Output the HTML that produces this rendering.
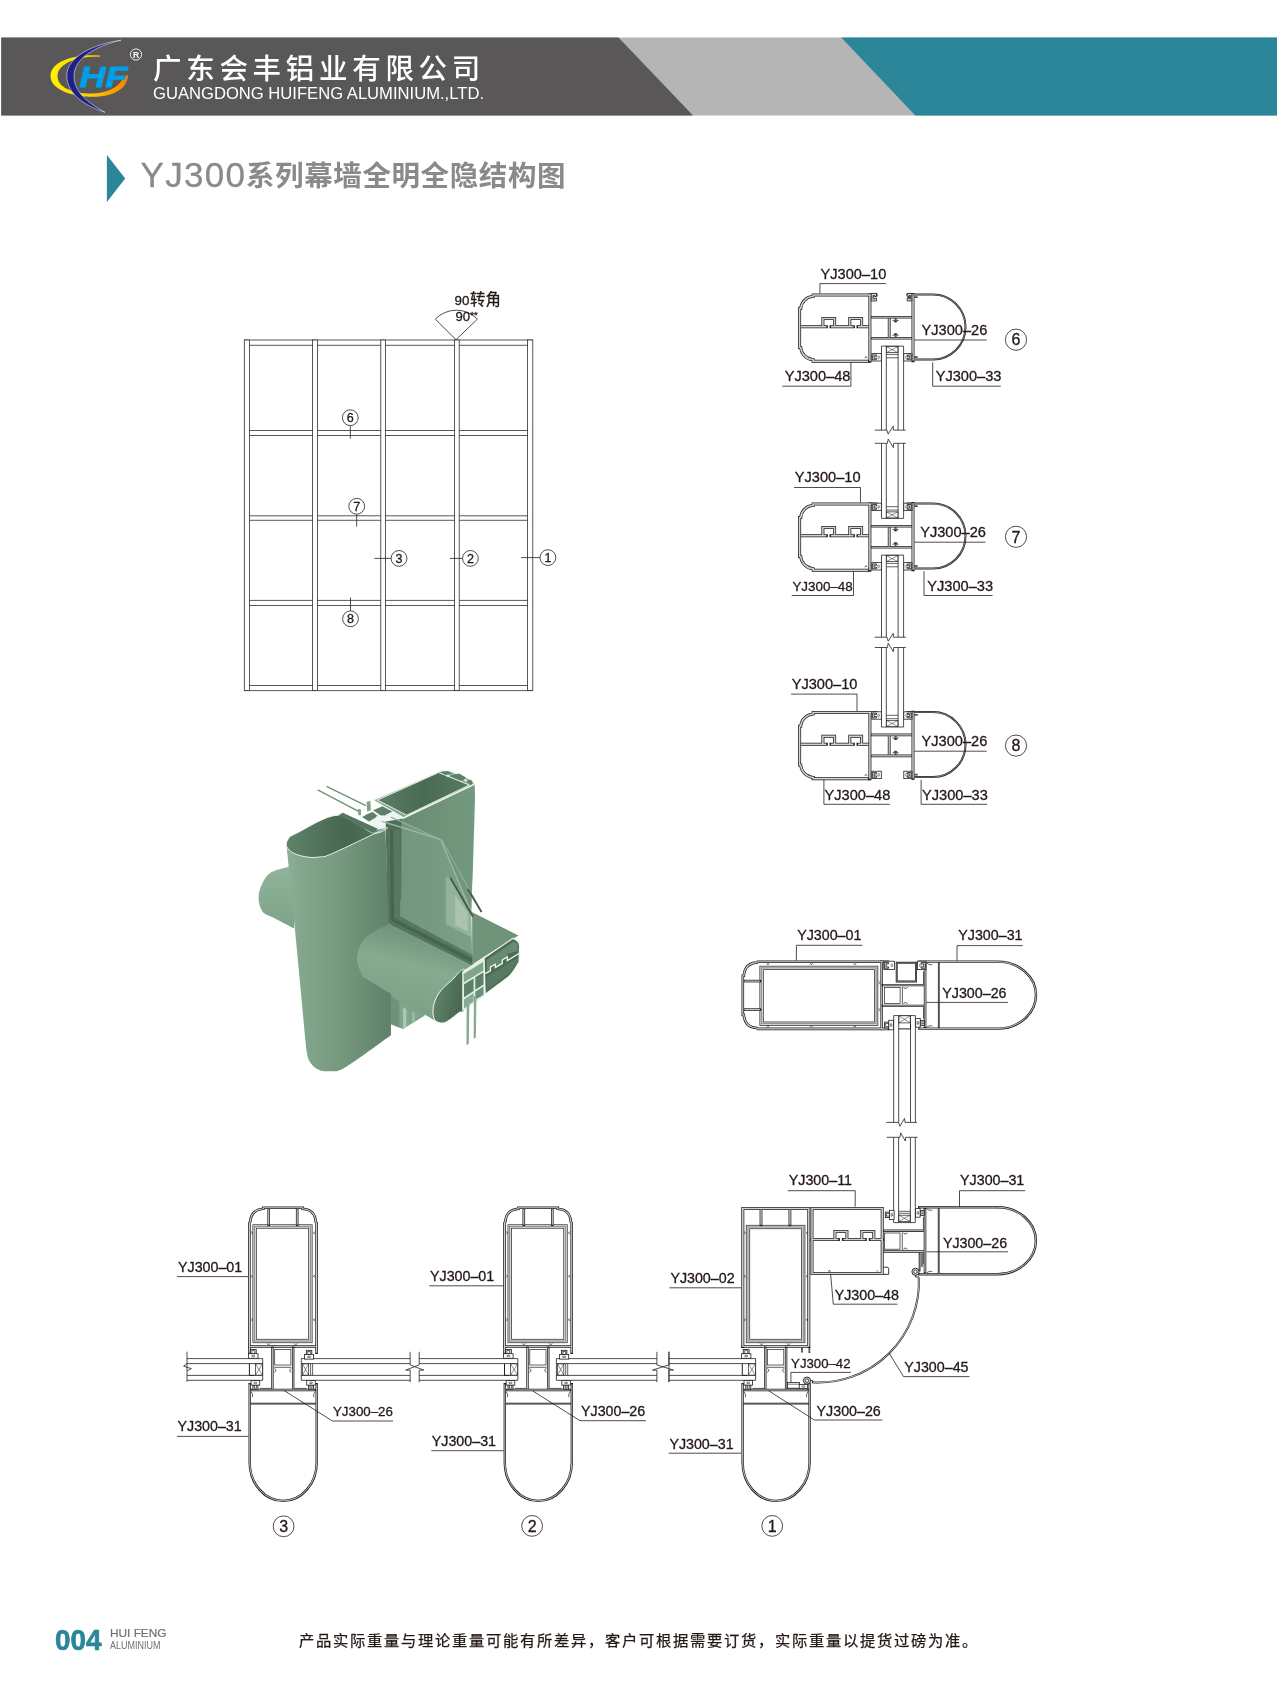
<!DOCTYPE html>
<html lang="zh"><head><meta charset="utf-8"><title>YJ300系列幕墙全明全隐结构图</title>
<style>html,body{margin:0;padding:0;background:#fff}svg{display:block;will-change:transform}text{font-family:"Liberation Sans", "Noto Sans CJK SC", sans-serif;stroke-linejoin:round}</style></head><body>
<svg width="1277" height="1683" viewBox="0 0 1277 1683">
<rect width="1277" height="1683" fill="#fff"/>
<g id="header">
<polygon points="1.2,37.5 1277,37.5 1277,115.6 1.2,115.6" fill="#b5b5b6"/>
<polygon points="1.2,37.5 618.5,37.5 693,115.6 1.2,115.6" fill="#595757"/>
<polygon points="841.3,37.5 1277,37.5 1277,115.6 915.3,115.6" fill="#2b8699"/>
<defs><linearGradient id="gy" x1="0" y1="0" x2="1" y2="0"><stop offset="0" stop-color="#fff100"/><stop offset="0.5" stop-color="#fdd000"/><stop offset="1" stop-color="#f08300"/></linearGradient></defs>
<path d="M100,55.5 C78,53.5 50.5,60 50.5,76 C50.5,92 80,98.5 100,96.5 C118,94.8 128,86 128,75 L123.5,76.5 C121,86 108,93 93,93.5 C74,94 57.5,88 57.5,76 C57.5,64 76,56 100,56.8 Z" fill="url(#gy)"/>
<path d="M121,40.2 C95,44 66.5,56 66.8,76 C67,94 85,106 105,112.3 C88,103 74,92 74,76 C74,58 96,46 121,40.2 Z" fill="#1d2088" stroke="#fff" stroke-width="0.5"/>
<text x="0" y="0" transform="translate(79.3,86.6) scale(1.22,1)" font-size="29.6" font-weight="bold" font-style="italic" fill="#00a0e9" stroke="#00a0e9" stroke-width="0.9" font-family='"Liberation Sans", sans-serif'>HF</text>
<circle cx="136" cy="54.5" r="5.6" fill="none" stroke="#fff" stroke-width="0.9"/>
<text x="136" y="57.6" font-size="8.5" fill="#fff" text-anchor="middle" font-weight="bold">R</text>
<text x="153" y="78.5" font-size="28.5" font-weight="500" fill="#fff" letter-spacing="4.7">广东会丰铝业有限公司</text>
<text x="153" y="99.3" font-size="16" fill="#fff" textLength="331" lengthAdjust="spacingAndGlyphs">GUANGDONG HUIFENG ALUMINIUM.,LTD.</text>
</g>
<polygon points="106.9,155 125.2,178.5 106.9,202" fill="#2b8699"/>
<text x="140.5" y="187.4" font-size="35" fill="#8a8a8a" stroke="#8a8a8a" stroke-width="0.3" textLength="104.5" lengthAdjust="spacing">YJ300</text>
<text x="246" y="186" font-size="28.5" font-weight="bold" fill="#8a8a8a" letter-spacing="0.6">系列幕墙全明全隐结构图</text>
<text x="55" y="1649.8" font-size="29.5" font-weight="bold" fill="#2b8699" stroke="#2b8699" stroke-width="0.7" textLength="46.5" lengthAdjust="spacingAndGlyphs">004</text>
<text x="110" y="1637" font-size="11.4" fill="#727171" stroke="#727171" stroke-width="0.2" textLength="56.5" lengthAdjust="spacingAndGlyphs">HUI FENG</text>
<text x="110" y="1649.4" font-size="10.2" fill="#727171" textLength="50.5" lengthAdjust="spacingAndGlyphs">ALUMINIUM</text>
<text x="299" y="1646" font-size="15.3" fill="#231815" stroke="#231815" stroke-width="0.25" letter-spacing="1.7">产品实际重量与理论重量可能有所差异，客户可根据需要订货，实际重量以提货过磅为准。</text>
<g id="grid">
<path d="M244.3,340H532.8M244.3,345.3H532.8" fill="none" stroke="#231f1e" stroke-width="0.75" />
<path d="M244.3,430.5H532.8M244.3,435.5H532.8" fill="none" stroke="#231f1e" stroke-width="0.75" />
<path d="M244.3,515.8H532.8M244.3,520.3H532.8" fill="none" stroke="#231f1e" stroke-width="0.75" />
<path d="M244.3,600.4H532.8M244.3,605.5H532.8" fill="none" stroke="#231f1e" stroke-width="0.75" />
<path d="M244.3,685.5H532.8M244.3,690.6H532.8" fill="none" stroke="#231f1e" stroke-width="0.75" />
<rect x="244.3" y="340" width="5.3" height="350.6" fill="#fff" stroke="#231f1e" stroke-width="0.75"/>
<rect x="312.6" y="340" width="5" height="350.6" fill="#fff" stroke="#231f1e" stroke-width="0.75"/>
<rect x="380.8" y="340" width="4.7" height="350.6" fill="#fff" stroke="#231f1e" stroke-width="0.75"/>
<rect x="454.6" y="340" width="4.6" height="350.6" fill="#fff" stroke="#231f1e" stroke-width="0.75"/>
<rect x="527.5" y="340" width="5.3" height="350.6" fill="#fff" stroke="#231f1e" stroke-width="0.75"/>
<path d="M435.3,319.1L456,339.7L477.4,319.1M435.3,319.1A29.3,29.3 0 0 1 477.4,319.1" fill="none" stroke="#231f1e" stroke-width="0.8" />
<text x="454.6" y="305.2" font-size="13.4" text-anchor="start" fill="#231815" stroke="#231815" stroke-width="0.3" >90<tspan font-size="15.4" dx="0.6">转角</tspan></text>
<text x="455.4" y="320.7" font-size="13.2" text-anchor="start" fill="#231815" stroke="#231815" stroke-width="0.3" >90</text>
<text x="470.2" y="317.5" font-size="9.5" text-anchor="start" fill="#231815" stroke="#231815" stroke-width="0.3" >**</text>
<path d="M350.3,425.6V438.6" fill="none" stroke="#231f1e" stroke-width="0.8" />
<circle cx="350.3" cy="417.7" r="7.9" fill="#fff" stroke="#231f1e" stroke-width="0.8"/>
<text x="350.3" y="422.2" font-size="12.5" text-anchor="middle" fill="#231815" stroke="#231815" stroke-width="0.3" >6</text>
<path d="M356.7,514.2V526.6" fill="none" stroke="#231f1e" stroke-width="0.8" />
<circle cx="356.7" cy="506.3" r="7.9" fill="#fff" stroke="#231f1e" stroke-width="0.8"/>
<text x="356.7" y="510.8" font-size="12.5" text-anchor="middle" fill="#231815" stroke="#231815" stroke-width="0.3" >7</text>
<path d="M350.5,597.6V610.8" fill="none" stroke="#231f1e" stroke-width="0.8" />
<circle cx="350.5" cy="618.8" r="7.9" fill="#fff" stroke="#231f1e" stroke-width="0.8"/>
<text x="350.5" y="623.3" font-size="12.5" text-anchor="middle" fill="#231815" stroke="#231815" stroke-width="0.3" >8</text>
<path d="M374.5,558.4H391.1" fill="none" stroke="#231f1e" stroke-width="0.8" />
<circle cx="399" cy="558.4" r="7.9" fill="#fff" stroke="#231f1e" stroke-width="0.8"/>
<text x="399" y="562.9" font-size="12.5" text-anchor="middle" fill="#231815" stroke="#231815" stroke-width="0.3" >3</text>
<path d="M449.8,558.4H462.5" fill="none" stroke="#231f1e" stroke-width="0.8" />
<circle cx="470.4" cy="558.4" r="7.9" fill="#fff" stroke="#231f1e" stroke-width="0.8"/>
<text x="470.4" y="562.9" font-size="12.5" text-anchor="middle" fill="#231815" stroke="#231815" stroke-width="0.3" >2</text>
<path d="M521.1,557.6H540" fill="none" stroke="#231f1e" stroke-width="0.8" />
<circle cx="547.9" cy="557.6" r="7.9" fill="#fff" stroke="#231f1e" stroke-width="0.8"/>
<text x="547.9" y="562.1" font-size="12.5" text-anchor="middle" fill="#231815" stroke="#231815" stroke-width="0.3" >1</text>
</g>
<g id="iso">
<defs>
<linearGradient id="gcol" x1="0" y1="0" x2="1" y2="0"><stop offset="0" stop-color="#8db197"/><stop offset="0.12" stop-color="#84a88e"/><stop offset="0.55" stop-color="#74977d"/><stop offset="1" stop-color="#5f8169"/></linearGradient>
<linearGradient id="gin" x1="0" y1="0" x2="1" y2="0"><stop offset="0" stop-color="#5f8369"/><stop offset="0.6" stop-color="#47664f"/><stop offset="1" stop-color="#54755d"/></linearGradient>
<linearGradient id="gstub" x1="0" y1="0" x2="0" y2="1"><stop offset="0" stop-color="#8fb49a"/><stop offset="1" stop-color="#7ea388"/></linearGradient>
<linearGradient id="gtube" x1="0.3" y1="0" x2="0" y2="1"><stop offset="0" stop-color="#6f937a"/><stop offset="0.35" stop-color="#86ab90"/><stop offset="0.75" stop-color="#7da287"/><stop offset="1" stop-color="#6c8f76"/></linearGradient>
<linearGradient id="gcap" x1="0" y1="0" x2="1" y2="0.3"><stop offset="0" stop-color="#648a6f"/><stop offset="1" stop-color="#466650"/></linearGradient>
<linearGradient id="gbox" x1="0" y1="0" x2="1" y2="0"><stop offset="0" stop-color="#5b7f66"/><stop offset="0.5" stop-color="#496a53"/><stop offset="1" stop-color="#587a62"/></linearGradient>
<linearGradient id="gface" x1="0" y1="0" x2="1" y2="0"><stop offset="0" stop-color="#668a70"/><stop offset="1" stop-color="#73997e"/></linearGradient>
</defs>
<path d="M326.47,786.32L365.94,805.74M317.69,789.82L360.93,812.63" stroke="#6f9379" stroke-width="1.4" fill="none"/>
<path d="M293.16,865.79C289.52,866.88 276.53,869.26 271.35,872.31C266.17,875.36 264.21,879.82 262.08,884.09C259.95,888.35 258.49,893.27 258.57,897.87C258.65,902.46 259.82,908.23 262.58,911.65C265.34,915.08 269.85,915.62 275.11,918.42C280.38,921.22 290.99,926.78 294.16,928.45L294.16,865.79Z" fill="url(#gstub)"/>
<polygon points="390.26,990.22 424.8,1012.77 424.8,1015.59 402.95,1028.98 390.26,1024.05" fill="#80a58b" />
<polygon points="402.95,1007.13 406.47,1009.25 406.47,1026.87 402.95,1028.98" fill="#a9c9b3" />
<polygon points="412.11,1011.36 414.93,1012.77 414.93,1021.51 412.11,1023.34" fill="#98bba3" />
<polygon points="390.96,995.86 399.42,1001.49 399.42,1027.57 390.96,1024.05" fill="#6f937a" />
<polygon points="403.23,818.27 474.66,783.81 475.04,797.59 472.78,872.78 472.11,887.64 471.23,916.47 472.11,956.57 387.52,917.72 387,822" fill="url(#gface)"/>
<path d="M372.28,800.1L439.2,771.03C442.71,769.27 447.72,769.27 451.73,771.03L470.28,778.8C473.78,780.3 475.54,782.56 475.04,784.81L403.23,818.9Z" fill="#eef4ef"/>
<path d="M374.54,800.23L439.7,772.16C442.96,770.65 447.47,770.65 451.23,772.16L469.52,779.8C472.28,781.05 473.53,782.56 473.28,784.06L403.48,817.02Z" fill="#84a98e"/>
<polygon points="377.54,800.1 438.7,772.53 469.27,785.06 406.62,815.14" fill="url(#gbox)" stroke="#f1f6f2" stroke-width="0.9"/>
<polygon points="440.2,772.28 447.72,771.28 451.23,772.78 446.47,775.29" fill="#5d8168" />
<polygon points="449.6,776.04 459,773.53 466.02,777.54 464.26,779.8 460.25,780.3" fill="#5d8168" />
<polygon points="466.77,781.05 471.28,779.8 472.78,783.81 470.28,784.81" fill="#5d8168" />
<path d="M446.47,775.66L449.6,776.04M464.26,779.8L466.77,781.05" stroke="#f1f6f2" stroke-width="1.6"/>
<polygon points="360.3,817.02 379.1,807.62 400.03,817.02 400.03,825.16 379.1,830.18" fill="#eef4ef" />
<polygon points="362.18,817.02 370.33,813.26 376.59,817.02 369.07,821.4" fill="#5d8168" />
<polygon points="375.34,810.75 382.86,806.99 392.26,811.38 384.11,815.76" fill="#5d8168" />
<polygon points="373.16,810.13 382.56,806.37 391.33,811.38 381.3,815.76" fill="#5d8168" />
<polygon points="365.01,815.14 372.53,812.01 377.54,815.76 371.28,819.52" fill="#5d8168" />
<polygon points="366.57,801.98 370.33,800.73 370.95,810.13 367.19,811.63" fill="#7fa48a" />
<polygon points="357.79,808.87 360.93,809.5 360.93,815.14 358.42,815.14" fill="#7fa48a" />
<polygon points="385.69,821.4 401.35,818.9 401.35,899.97 386.94,899.97" fill="#4f6f59" />
<polygon points="386.89,830 400.05,830 400.05,916.47 472.98,955.31 472.98,965.96 387.52,923.36" fill="#46654f" />
<polygon points="393.16,830 400.05,830 400.05,916.47 472.98,955.31 472.98,959.07 394.04,918.35" fill="#567860" />
<polygon points="386.89,830 390.03,830 390.65,920.23 472.98,963.08 472.98,965.96 387.52,923.36" fill="#54755d" />
<polygon points="470.85,911.45 518.47,935.51 484.01,956.82 472.11,964.71 472.11,917.72" fill="#6f947a" />
<polygon points="401.35,819.9 440.83,839.57 472.98,916.47 472.98,956.57 400.05,916.47" fill="#a9c9b3" fill-opacity="0.18"/>
<polygon points="445.79,876.99 450.18,877.62 471.23,916.47 471.23,937.14 445.79,923.98" fill="#d6e8dc" fill-opacity="0.28"/>
<polygon points="455.19,895.16 467.72,912.71 467.72,931.5 455.19,925.24" fill="#eef7f0" fill-opacity="0.25"/>
<path d="M381.93,821.4L440.83,839.57L472.98,916.47" stroke="#9dbba6" stroke-width="1.3" fill="none"/>
<path d="M390.7,817.02L442.08,840.2L481.5,912.08" stroke="#8fae98" stroke-width="1.2" fill="none"/>
<path d="M450.18,877.62L472.98,916.47" stroke="#3e5b47" stroke-width="1.8" fill="none"/>
<path d="M467.72,888.9L481.5,912.08" stroke="#3e5b47" stroke-width="1.8" fill="none"/>
<path d="M286.62,846.47L385.36,828.3L390.96,991.63L390.96,1035.33C383.45,1040.61 355.96,1061.05 345.86,1067.04C335.75,1073.03 335.05,1070.92 330.35,1071.27C325.65,1071.62 321.19,1070.92 317.66,1069.16C314.14,1067.39 311.13,1064.22 309.2,1060.7C307.28,1057.18 306.62,1050.13 306.1,1048.01L295.11,931.01Z" fill="url(#gcol)"/>
<path d="M286.62,846.47C285.68,844.06 286.62,841.14 288.25,838.95C289.87,836.75 288.04,837.28 296.39,833.31C304.75,829.34 325.63,815.2 338.37,815.14C351.11,815.08 365,830.74 372.83,832.93C380.66,835.13 392.05,824.89 385.36,828.3C378.68,831.7 343.59,848.6 332.73,853.36C321.87,858.12 324.38,856.24 320.2,856.87C316.02,857.49 312.06,857.7 307.67,857.12C303.28,856.53 297.39,855.13 293.88,853.36C290.38,851.58 287.56,848.87 286.62,846.47Z" fill="url(#gin)" stroke="#f4f8f5" stroke-width="0.9"/>
<path d="M340.25,813.26L377.84,828.67" stroke="#f4f8f5" stroke-width="1" fill="none"/>
<polygon points="338.37,815.14 342.76,812.63 377.84,828.67 372.83,832.93" fill="#557760" />
<path d="M389.55,924.25C387.56,925.14 382.04,926.83 377.57,929.6C373.11,932.37 366.22,935.95 362.77,940.88C359.32,945.81 356.85,953.21 356.85,959.2C356.85,965.2 361.78,973.89 362.77,976.83L434.71,1020.52L465.02,970.48L472.98,965.96Z" fill="url(#gtube)"/>
<path d="M465.02,970.48C462.86,965.9 455.97,976.59 451.63,980.35C447.28,984.11 441.99,988.57 438.94,993.04C435.89,997.5 434.01,1002.67 433.3,1007.13C432.6,1011.6 432.83,1017.24 434.71,1019.82C436.59,1022.4 440.58,1023.81 444.58,1022.64C448.57,1021.46 455.34,1015.24 458.67,1012.77C462.01,1010.3 463.54,1014.89 464.6,1007.84C465.65,1000.79 467.18,975.06 465.02,970.48Z" fill="url(#gcap)" stroke="#f4f8f5" stroke-width="1"/>
<polygon points="462.2,971.19 484.75,957.09 484.75,995.86 462.2,1011.36" fill="#e3eee6" />
<polygon points="463.75,974.01 483.48,961.74 483.48,970.48 463.75,982.46" fill="#7fa48a" />
<polygon points="464.03,984.3 473.62,978.38 473.62,990.92 464.03,997.27" fill="#5d8168" />
<polygon points="475.31,977.25 483.48,972.17 483.48,984.58 475.31,989.65" fill="#5d8168" />
<polygon points="475.31,991.63 483.48,986.55 483.48,994.73 475.31,999.8" fill="#6a8f74" />
<polygon points="464.03,999.38 473.62,993.04 473.62,1001.49 464.03,1008.54" fill="#86ab92" />
<path d="M484.05,958.08L512.95,938.34Q519.99,940.88 519.57,946.52L519.01,962.02Q512.24,974.01 508.01,977.25L485.18,994.16Z" fill="#4c6b55" stroke="#f1f6f2" stroke-width="1.2"/>
<polygon points="486.87,959.91 513.65,941.58 517.6,943.7 517.88,950.75 507.31,954.27 507.31,957.8 502.37,960.61 502.37,964.14 495.33,968.37 495.33,965.13 490.39,967.94 490.39,971.61 486.87,973.3" fill="#668b71" />
<polygon points="486.87,976.83 517.6,957.8 517.18,962.73 509.42,973.3 486.87,990.22" fill="#587a62" />
<path d="M485.18,973.58L490.39,970.76L490.39,966.96L495.33,964.28L495.33,967.66L502.37,963.43L502.37,959.77L507.31,956.95L507.31,960.61L519.29,953.28" fill="none" stroke="#f1f6f2" stroke-width="1.3"/>
<polygon points="466.71,997.27 469.39,998.67 468.82,1043.78 466.43,1044.91" fill="#86ab92" />
<polygon points="473.9,995.86 476.44,997.27 475.87,1037.44 473.62,1038.85" fill="#86ab92" />
</g>
<g transform="translate(248.1,1205.8)">
<path d="M-61.1,152.8H14.6M-61.1,157.8H14.6M-61.1,169.6H14.6M-61.1,174.5H14.6" fill="none" stroke="#231f1e" stroke-width="0.8" />
<path d="M14.6,152.8V174.5" fill="none" stroke="#231f1e" stroke-width="0.8" />
<rect x="7.3" y="158.1" width="7.1" height="11.2" fill="#fff" stroke="#231f1e" stroke-width="0.7"/>
<path d="M7.3,158.1L14.4,169.3M14.4,158.1L7.3,169.3" fill="none" stroke="#231f1e" stroke-width="0.5" />
<path d="M1.3,157.8V169.6H6" fill="none" stroke="#231f1e" stroke-width="1" />
<path d="M53.2,152.8H162.05M53.2,157.8H162.05M53.2,169.6H162.05M53.2,174.5H162.05" fill="none" stroke="#231f1e" stroke-width="0.8" />
<path d="M53.2,152.8V174.5" fill="none" stroke="#231f1e" stroke-width="0.8" />
<rect x="54.4" y="158.1" width="6.2" height="11.2" fill="#fff" stroke="#231f1e" stroke-width="0.7"/>
<path d="M54.4,158.1L60.6,169.3M60.6,158.1L54.4,169.3" fill="none" stroke="#231f1e" stroke-width="0.5" />
<path d="M62.5,157.8V169.6 M64.5,157.8V169.6" fill="none" stroke="#231f1e" stroke-width="0.7" />
<rect x="6.5" y="20.7" width="55.8" height="114.5" fill="none" stroke="#231f1e" stroke-width="4.2"/>
<rect x="6.5" y="20.7" width="55.8" height="114.5" fill="none" stroke="#d2d2d2" stroke-width="2.9"/>
<rect x="6.5" y="20.7" width="55.8" height="114.5" fill="none" stroke="#555" stroke-width="0.5"/>
<path d="M3,25.8L4.6,27L3,28.2M67,25.8L65.2,27L67,28.2" fill="none" stroke="#231f1e" stroke-width="0.6" />
<path d="M3,69.3L4.6,70.5L3,71.7M67,69.3L65.2,70.5L67,71.7" fill="none" stroke="#231f1e" stroke-width="0.6" />
<path d="M3,112.8L4.6,114L3,115.2M67,112.8L65.2,114L67,115.2" fill="none" stroke="#231f1e" stroke-width="0.6" />
<path d="M19.0,137.5L20.5,139.4L22.0,137.5" fill="none" stroke="#231f1e" stroke-width="0.6" />
<path d="M46.0,137.5L47.5,139.4L49.0,137.5" fill="none" stroke="#231f1e" stroke-width="0.6" />
<path d="M1.3,147 V17 L2.2,16 C2.5,8.5 7,3.6 15.3,2.9 V1.9 H54.5 V2.9 C62.8,3.6 67.3,8.5 67.6,16 L68.5,17 V147" fill="none" stroke="#231f1e" stroke-width="2.6" stroke-linecap="square" />
<path d="M1.3,140.7 H68.5" fill="none" stroke="#231f1e" stroke-width="2.4" stroke-linecap="square" />
<path d="M20.6,3.5 V19" fill="none" stroke="#231f1e" stroke-width="2.6" stroke-linecap="square" />
<path d="M49.1,3.5 V19" fill="none" stroke="#231f1e" stroke-width="2.6" stroke-linecap="square" />
<path d="M1.3,147 V17 L2.2,16 C2.5,8.5 7,3.6 15.3,2.9 V1.9 H54.5 V2.9 C62.8,3.6 67.3,8.5 67.6,16 L68.5,17 V147" fill="none" stroke="#d2d2d2" stroke-width="1.1" />
<path d="M1.3,140.7 H68.5" fill="none" stroke="#d2d2d2" stroke-width="0.9" />
<path d="M20.6,3.5 V19" fill="none" stroke="#d2d2d2" stroke-width="1.1" />
<path d="M49.1,3.5 V19" fill="none" stroke="#d2d2d2" stroke-width="1.1" />
<rect x="26.6" y="143.6" width="16.2" height="15.6" fill="#fff" stroke="#231f1e" stroke-width="0.7"/>
<path d="M26,161.5 H43.4" fill="none" stroke="#231f1e" stroke-width="0.7" />
<path d="M26.2,163 c2,0 2,3 0,3.4 M43.2,163 c-2,0 -2,3 0,3.4" fill="none" stroke="#231f1e" stroke-width="0.8" />
<path d="M11.6,182.6 H23 M46.4,182.6 H58.6" fill="none" stroke="#231f1e" stroke-width="0.7" />
<path d="M3,186 l1.4,2.4 v3 M67,186 l-1.4,2.4 v3" fill="none" stroke="#231f1e" stroke-width="0.7" />
<path d="M24.3,142 V183" fill="none" stroke="#231f1e" stroke-width="2.4" stroke-linecap="square" />
<path d="M45.1,142 V183" fill="none" stroke="#231f1e" stroke-width="2.4" stroke-linecap="square" />
<path d="M3.5,184.2 H66.5" fill="none" stroke="#231f1e" stroke-width="2.6" stroke-linecap="square" />
<path d="M1.6,178.5 V256.6 A33.5,38.5 0 0 0 68.6,256.6 V178.5" fill="none" stroke="#231f1e" stroke-width="2.4" stroke-linecap="square" />
<path d="M2.8,197.9 H67.39999999999999" fill="none" stroke="#231f1e" stroke-width="1.8" stroke-linecap="square" />
<path d="M24.3,142 V183" fill="none" stroke="#d2d2d2" stroke-width="0.9" />
<path d="M45.1,142 V183" fill="none" stroke="#d2d2d2" stroke-width="0.9" />
<path d="M3.5,184.2 H66.5" fill="none" stroke="#d2d2d2" stroke-width="1.1" />
<path d="M1.6,178.5 V256.6 A33.5,38.5 0 0 0 68.6,256.6 V178.5" fill="none" stroke="#d2d2d2" stroke-width="0.9" />
<path d="M2.8,197.9 H67.39999999999999" fill="none" stroke="#d2d2d2" stroke-width="0.4" />
<rect x="2.2" y="143.7" width="5.9" height="4.2" fill="#d2d2d2" stroke="#231f1e" stroke-width="0.8"/>
<rect x="3.8" y="144.9" width="2.7" height="3" fill="#fff" stroke="#231f1e" stroke-width="0.6"/>
<rect x="0.4" y="147.9" width="9.5" height="4.6" fill="#fff" stroke="#231f1e" stroke-width="0.8"/>
<ellipse cx="5.15" cy="150.2" rx="1.6" ry="0.8" fill="#fff" stroke="#231f1e" stroke-width="0.6"/>
<rect x="4.8" y="179.3" width="5" height="4.2" fill="#d2d2d2" stroke="#231f1e" stroke-width="0.8"/>
<rect x="6.4" y="179.3" width="1.8" height="3" fill="#fff" stroke="#231f1e" stroke-width="0.6"/>
<rect x="3" y="174.8" width="8.6" height="4.5" fill="#fff" stroke="#231f1e" stroke-width="0.8"/>
<ellipse cx="7.3" cy="177.05" rx="1.6" ry="0.8" fill="#fff" stroke="#231f1e" stroke-width="0.6"/>
<rect x="58.2" y="144.5" width="5.5" height="4.2" fill="#d2d2d2" stroke="#231f1e" stroke-width="0.8"/>
<rect x="59.8" y="145.7" width="2.3" height="3" fill="#fff" stroke="#231f1e" stroke-width="0.6"/>
<rect x="56.4" y="148.7" width="9.1" height="4.6" fill="#fff" stroke="#231f1e" stroke-width="0.8"/>
<ellipse cx="60.95" cy="151" rx="1.6" ry="0.8" fill="#fff" stroke="#231f1e" stroke-width="0.6"/>
<rect x="60.4" y="179.3" width="5" height="4.2" fill="#d2d2d2" stroke="#231f1e" stroke-width="0.8"/>
<rect x="62" y="179.3" width="1.8" height="3" fill="#fff" stroke="#231f1e" stroke-width="0.6"/>
<rect x="58.6" y="174.8" width="8.6" height="4.5" fill="#fff" stroke="#231f1e" stroke-width="0.8"/>
<ellipse cx="62.9" cy="177.05" rx="1.6" ry="0.8" fill="#fff" stroke="#231f1e" stroke-width="0.6"/>
</g>
<path d="M187,1351.7V1381.8M187,1363.5L183.6,1366.2L191.4,1368.6L187,1371" fill="none" stroke="#231f1e" stroke-width="0.8" />
<path d="M410.15,1351.8V1364.9L423.8,1370.1H419.2V1382.2" fill="none" stroke="#231f1e" stroke-width="0.8" />
<path d="M419.2,1351.8V1364.9L405.75,1370.1H410.15V1382.2" fill="none" stroke="#231f1e" stroke-width="0.8" />
<text x="178" y="1272.2" font-size="14.25" text-anchor="start" fill="#231815" stroke="#231815" stroke-width="0.3" >YJ300–01</text>
<path d="M177,1276.6H248.2" fill="none" stroke="#231f1e" stroke-width="0.8" />
<text x="177.5" y="1431.4" font-size="14.25" text-anchor="start" fill="#231815" stroke="#231815" stroke-width="0.3" >YJ300–31</text>
<path d="M177,1436.4H248.4" fill="none" stroke="#231f1e" stroke-width="0.8" />
<text x="333" y="1415.6" font-size="13.3" text-anchor="start" fill="#231815" stroke="#231815" stroke-width="0.3" >YJ300–26</text>
<path d="M332.4,1421H393M332.4,1421L284,1390.5" fill="none" stroke="#231f1e" stroke-width="0.8" />
<circle cx="283.6" cy="1526.3" r="10.4" fill="#fff" stroke="#231f1e" stroke-width="0.8"/>
<text x="283.6" y="1532.06" font-size="16" text-anchor="middle" fill="#231815" stroke="#231815" stroke-width="0.3" >3</text>
<g transform="translate(503.2,1205.8)">
<path d="M-84,152.8H14.6M-84,157.8H14.6M-84,169.6H14.6M-84,174.5H14.6" fill="none" stroke="#231f1e" stroke-width="0.8" />
<path d="M14.6,152.8V174.5" fill="none" stroke="#231f1e" stroke-width="0.8" />
<rect x="7.3" y="158.1" width="7.1" height="11.2" fill="#fff" stroke="#231f1e" stroke-width="0.7"/>
<path d="M7.3,158.1L14.4,169.3M14.4,158.1L7.3,169.3" fill="none" stroke="#231f1e" stroke-width="0.5" />
<path d="M1.3,157.8V169.6H6" fill="none" stroke="#231f1e" stroke-width="1" />
<path d="M53.2,152.8H153.7M53.2,157.8H153.7M53.2,169.6H153.7M53.2,174.5H153.7" fill="none" stroke="#231f1e" stroke-width="0.8" />
<path d="M53.2,152.8V174.5" fill="none" stroke="#231f1e" stroke-width="0.8" />
<rect x="54.4" y="158.1" width="6.2" height="11.2" fill="#fff" stroke="#231f1e" stroke-width="0.7"/>
<path d="M54.4,158.1L60.6,169.3M60.6,158.1L54.4,169.3" fill="none" stroke="#231f1e" stroke-width="0.5" />
<path d="M62.5,157.8V169.6 M64.5,157.8V169.6" fill="none" stroke="#231f1e" stroke-width="0.7" />
<rect x="6.5" y="20.7" width="55.8" height="114.5" fill="none" stroke="#231f1e" stroke-width="4.2"/>
<rect x="6.5" y="20.7" width="55.8" height="114.5" fill="none" stroke="#d2d2d2" stroke-width="2.9"/>
<rect x="6.5" y="20.7" width="55.8" height="114.5" fill="none" stroke="#555" stroke-width="0.5"/>
<path d="M3,25.8L4.6,27L3,28.2M67,25.8L65.2,27L67,28.2" fill="none" stroke="#231f1e" stroke-width="0.6" />
<path d="M3,69.3L4.6,70.5L3,71.7M67,69.3L65.2,70.5L67,71.7" fill="none" stroke="#231f1e" stroke-width="0.6" />
<path d="M3,112.8L4.6,114L3,115.2M67,112.8L65.2,114L67,115.2" fill="none" stroke="#231f1e" stroke-width="0.6" />
<path d="M19.0,137.5L20.5,139.4L22.0,137.5" fill="none" stroke="#231f1e" stroke-width="0.6" />
<path d="M46.0,137.5L47.5,139.4L49.0,137.5" fill="none" stroke="#231f1e" stroke-width="0.6" />
<path d="M1.3,147 V17 L2.2,16 C2.5,8.5 7,3.6 15.3,2.9 V1.9 H54.5 V2.9 C62.8,3.6 67.3,8.5 67.6,16 L68.5,17 V147" fill="none" stroke="#231f1e" stroke-width="2.6" stroke-linecap="square" />
<path d="M1.3,140.7 H68.5" fill="none" stroke="#231f1e" stroke-width="2.4" stroke-linecap="square" />
<path d="M20.6,3.5 V19" fill="none" stroke="#231f1e" stroke-width="2.6" stroke-linecap="square" />
<path d="M49.1,3.5 V19" fill="none" stroke="#231f1e" stroke-width="2.6" stroke-linecap="square" />
<path d="M1.3,147 V17 L2.2,16 C2.5,8.5 7,3.6 15.3,2.9 V1.9 H54.5 V2.9 C62.8,3.6 67.3,8.5 67.6,16 L68.5,17 V147" fill="none" stroke="#d2d2d2" stroke-width="1.1" />
<path d="M1.3,140.7 H68.5" fill="none" stroke="#d2d2d2" stroke-width="0.9" />
<path d="M20.6,3.5 V19" fill="none" stroke="#d2d2d2" stroke-width="1.1" />
<path d="M49.1,3.5 V19" fill="none" stroke="#d2d2d2" stroke-width="1.1" />
<rect x="26.6" y="143.6" width="16.2" height="15.6" fill="#fff" stroke="#231f1e" stroke-width="0.7"/>
<path d="M26,161.5 H43.4" fill="none" stroke="#231f1e" stroke-width="0.7" />
<path d="M26.2,163 c2,0 2,3 0,3.4 M43.2,163 c-2,0 -2,3 0,3.4" fill="none" stroke="#231f1e" stroke-width="0.8" />
<path d="M11.6,182.6 H23 M46.4,182.6 H58.6" fill="none" stroke="#231f1e" stroke-width="0.7" />
<path d="M3,186 l1.4,2.4 v3 M67,186 l-1.4,2.4 v3" fill="none" stroke="#231f1e" stroke-width="0.7" />
<path d="M24.3,142 V183" fill="none" stroke="#231f1e" stroke-width="2.4" stroke-linecap="square" />
<path d="M45.1,142 V183" fill="none" stroke="#231f1e" stroke-width="2.4" stroke-linecap="square" />
<path d="M3.5,184.2 H66.5" fill="none" stroke="#231f1e" stroke-width="2.6" stroke-linecap="square" />
<path d="M1.6,178.5 V256.6 A33.5,38.5 0 0 0 68.6,256.6 V178.5" fill="none" stroke="#231f1e" stroke-width="2.4" stroke-linecap="square" />
<path d="M2.8,197.9 H67.39999999999999" fill="none" stroke="#231f1e" stroke-width="1.8" stroke-linecap="square" />
<path d="M24.3,142 V183" fill="none" stroke="#d2d2d2" stroke-width="0.9" />
<path d="M45.1,142 V183" fill="none" stroke="#d2d2d2" stroke-width="0.9" />
<path d="M3.5,184.2 H66.5" fill="none" stroke="#d2d2d2" stroke-width="1.1" />
<path d="M1.6,178.5 V256.6 A33.5,38.5 0 0 0 68.6,256.6 V178.5" fill="none" stroke="#d2d2d2" stroke-width="0.9" />
<path d="M2.8,197.9 H67.39999999999999" fill="none" stroke="#d2d2d2" stroke-width="0.4" />
<rect x="2.2" y="143.7" width="5.9" height="4.2" fill="#d2d2d2" stroke="#231f1e" stroke-width="0.8"/>
<rect x="3.8" y="144.9" width="2.7" height="3" fill="#fff" stroke="#231f1e" stroke-width="0.6"/>
<rect x="0.4" y="147.9" width="9.5" height="4.6" fill="#fff" stroke="#231f1e" stroke-width="0.8"/>
<ellipse cx="5.15" cy="150.2" rx="1.6" ry="0.8" fill="#fff" stroke="#231f1e" stroke-width="0.6"/>
<rect x="4.8" y="179.3" width="5" height="4.2" fill="#d2d2d2" stroke="#231f1e" stroke-width="0.8"/>
<rect x="6.4" y="179.3" width="1.8" height="3" fill="#fff" stroke="#231f1e" stroke-width="0.6"/>
<rect x="3" y="174.8" width="8.6" height="4.5" fill="#fff" stroke="#231f1e" stroke-width="0.8"/>
<ellipse cx="7.3" cy="177.05" rx="1.6" ry="0.8" fill="#fff" stroke="#231f1e" stroke-width="0.6"/>
<rect x="58.2" y="144.5" width="5.5" height="4.2" fill="#d2d2d2" stroke="#231f1e" stroke-width="0.8"/>
<rect x="59.8" y="145.7" width="2.3" height="3" fill="#fff" stroke="#231f1e" stroke-width="0.6"/>
<rect x="56.4" y="148.7" width="9.1" height="4.6" fill="#fff" stroke="#231f1e" stroke-width="0.8"/>
<ellipse cx="60.95" cy="151" rx="1.6" ry="0.8" fill="#fff" stroke="#231f1e" stroke-width="0.6"/>
<rect x="60.4" y="179.3" width="5" height="4.2" fill="#d2d2d2" stroke="#231f1e" stroke-width="0.8"/>
<rect x="62" y="179.3" width="1.8" height="3" fill="#fff" stroke="#231f1e" stroke-width="0.6"/>
<rect x="58.6" y="174.8" width="8.6" height="4.5" fill="#fff" stroke="#231f1e" stroke-width="0.8"/>
<ellipse cx="62.9" cy="177.05" rx="1.6" ry="0.8" fill="#fff" stroke="#231f1e" stroke-width="0.6"/>
</g>
<path d="M656.9,1351.8V1364.9L673.5,1370.1H668.9V1382.2" fill="none" stroke="#231f1e" stroke-width="0.8" />
<path d="M668.9,1351.8V1364.9L652.5,1370.1H656.9V1382.2" fill="none" stroke="#231f1e" stroke-width="0.8" />
<text x="430" y="1281" font-size="14.25" text-anchor="start" fill="#231815" stroke="#231815" stroke-width="0.3" >YJ300–01</text>
<path d="M429.3,1285.8H503.4" fill="none" stroke="#231f1e" stroke-width="0.8" />
<text x="431.8" y="1445.7" font-size="14.25" text-anchor="start" fill="#231815" stroke="#231815" stroke-width="0.3" >YJ300–31</text>
<path d="M431.3,1450.7H503.6" fill="none" stroke="#231f1e" stroke-width="0.8" />
<text x="581" y="1415.6" font-size="14.25" text-anchor="start" fill="#231815" stroke="#231815" stroke-width="0.3" >YJ300–26</text>
<path d="M580,1420.7H646M580,1420.7L532.8,1391" fill="none" stroke="#231f1e" stroke-width="0.8" />
<circle cx="532.1" cy="1525.9" r="10.4" fill="#fff" stroke="#231f1e" stroke-width="0.8"/>
<text x="532.1" y="1531.66" font-size="16" text-anchor="middle" fill="#231815" stroke="#231815" stroke-width="0.3" >2</text>
<g transform="translate(740.9,1030.2) rotate(-90)">
<path d="M-92.2,152.8H14.6M-92.2,157.8H14.6M-92.2,169.6H14.6M-92.2,174.5H14.6" fill="none" stroke="#231f1e" stroke-width="0.8" />
<path d="M14.6,152.8V174.5" fill="none" stroke="#231f1e" stroke-width="0.8" />
<rect x="7.3" y="158.1" width="7.1" height="11.2" fill="#fff" stroke="#231f1e" stroke-width="0.7"/>
<path d="M7.3,158.1L14.4,169.3M14.4,158.1L7.3,169.3" fill="none" stroke="#231f1e" stroke-width="0.5" />
<path d="M1.3,157.8V169.6H6" fill="none" stroke="#231f1e" stroke-width="1" />
<rect x="6.5" y="20.7" width="55.8" height="114.5" fill="none" stroke="#231f1e" stroke-width="4.2"/>
<rect x="6.5" y="20.7" width="55.8" height="114.5" fill="none" stroke="#d2d2d2" stroke-width="2.9"/>
<rect x="6.5" y="20.7" width="55.8" height="114.5" fill="none" stroke="#555" stroke-width="0.5"/>
<path d="M3,25.8L4.6,27L3,28.2M67,25.8L65.2,27L67,28.2" fill="none" stroke="#231f1e" stroke-width="0.6" />
<path d="M3,69.3L4.6,70.5L3,71.7M67,69.3L65.2,70.5L67,71.7" fill="none" stroke="#231f1e" stroke-width="0.6" />
<path d="M3,112.8L4.6,114L3,115.2M67,112.8L65.2,114L67,115.2" fill="none" stroke="#231f1e" stroke-width="0.6" />
<path d="M19.0,137.5L20.5,139.4L22.0,137.5" fill="none" stroke="#231f1e" stroke-width="0.6" />
<path d="M46.0,137.5L47.5,139.4L49.0,137.5" fill="none" stroke="#231f1e" stroke-width="0.6" />
<path d="M1.3,147 V17 L2.2,16 C2.5,8.5 7,3.6 15.3,2.9 V1.9 H54.5 V2.9 C62.8,3.6 67.3,8.5 67.6,16 L68.5,17 V147" fill="none" stroke="#231f1e" stroke-width="2.6" stroke-linecap="square" />
<path d="M1.3,140.7 H68.5" fill="none" stroke="#231f1e" stroke-width="2.4" stroke-linecap="square" />
<path d="M20.6,3.5 V19" fill="none" stroke="#231f1e" stroke-width="2.6" stroke-linecap="square" />
<path d="M49.1,3.5 V19" fill="none" stroke="#231f1e" stroke-width="2.6" stroke-linecap="square" />
<path d="M1.3,147 V17 L2.2,16 C2.5,8.5 7,3.6 15.3,2.9 V1.9 H54.5 V2.9 C62.8,3.6 67.3,8.5 67.6,16 L68.5,17 V147" fill="none" stroke="#d2d2d2" stroke-width="1.1" />
<path d="M1.3,140.7 H68.5" fill="none" stroke="#d2d2d2" stroke-width="0.9" />
<path d="M20.6,3.5 V19" fill="none" stroke="#d2d2d2" stroke-width="1.1" />
<path d="M49.1,3.5 V19" fill="none" stroke="#d2d2d2" stroke-width="1.1" />
<rect x="26.6" y="143.6" width="16.2" height="15.6" fill="#fff" stroke="#231f1e" stroke-width="0.7"/>
<path d="M26,161.5 H43.4" fill="none" stroke="#231f1e" stroke-width="0.7" />
<path d="M26.2,163 c2,0 2,3 0,3.4 M43.2,163 c-2,0 -2,3 0,3.4" fill="none" stroke="#231f1e" stroke-width="0.8" />
<path d="M11.6,182.6 H23 M46.4,182.6 H58.6" fill="none" stroke="#231f1e" stroke-width="0.7" />
<path d="M3,186 l1.4,2.4 v3 M67,186 l-1.4,2.4 v3" fill="none" stroke="#231f1e" stroke-width="0.7" />
<path d="M24.3,142 V183" fill="none" stroke="#231f1e" stroke-width="2.4" stroke-linecap="square" />
<path d="M45.1,142 V183" fill="none" stroke="#231f1e" stroke-width="2.4" stroke-linecap="square" />
<path d="M3.5,184.2 H66.5" fill="none" stroke="#231f1e" stroke-width="2.6" stroke-linecap="square" />
<path d="M1.6,178.5 V256.6 A33.5,38.5 0 0 0 68.6,256.6 V178.5" fill="none" stroke="#231f1e" stroke-width="2.4" stroke-linecap="square" />
<path d="M2.8,197.9 H67.39999999999999" fill="none" stroke="#231f1e" stroke-width="1.8" stroke-linecap="square" />
<path d="M24.3,142 V183" fill="none" stroke="#d2d2d2" stroke-width="0.9" />
<path d="M45.1,142 V183" fill="none" stroke="#d2d2d2" stroke-width="0.9" />
<path d="M3.5,184.2 H66.5" fill="none" stroke="#d2d2d2" stroke-width="1.1" />
<path d="M1.6,178.5 V256.6 A33.5,38.5 0 0 0 68.6,256.6 V178.5" fill="none" stroke="#d2d2d2" stroke-width="0.9" />
<path d="M2.8,197.9 H67.39999999999999" fill="none" stroke="#d2d2d2" stroke-width="0.4" />
<rect x="2.2" y="143.7" width="5.9" height="4.2" fill="#d2d2d2" stroke="#231f1e" stroke-width="0.8"/>
<rect x="3.8" y="144.9" width="2.7" height="3" fill="#fff" stroke="#231f1e" stroke-width="0.6"/>
<rect x="0.4" y="147.9" width="9.5" height="4.6" fill="#fff" stroke="#231f1e" stroke-width="0.8"/>
<ellipse cx="5.15" cy="150.2" rx="1.6" ry="0.8" fill="#fff" stroke="#231f1e" stroke-width="0.6"/>
<rect x="4.8" y="179.3" width="5" height="4.2" fill="#d2d2d2" stroke="#231f1e" stroke-width="0.8"/>
<rect x="6.4" y="179.3" width="1.8" height="3" fill="#fff" stroke="#231f1e" stroke-width="0.6"/>
<rect x="3" y="174.8" width="8.6" height="4.5" fill="#fff" stroke="#231f1e" stroke-width="0.8"/>
<ellipse cx="7.3" cy="177.05" rx="1.6" ry="0.8" fill="#fff" stroke="#231f1e" stroke-width="0.6"/>
</g>
<path d="M896.7,962.8 H916 V981.5 H896.7 Z" fill="none" stroke="#231f1e" stroke-width="1.9" stroke-linecap="square" />
<path d="M896.7,962.8 H916 V981.5 H896.7 Z" fill="none" stroke="#d2d2d2" stroke-width="0.4" />
<rect x="883.8" y="961.2" width="10.8" height="8.4" fill="#fff" stroke="#231f1e" stroke-width="0.8"/>
<path d="M884.4,962.5h4.2v1.4h-2.4v3h2.4v1.4h-4.2z" fill="#d2d2d2" stroke="#231f1e" stroke-width="0.8"/>
<ellipse cx="891.9" cy="965.4" rx="0.8" ry="1.5" fill="#fff" stroke="#231f1e" stroke-width="0.5"/>
<rect x="917.6" y="961.2" width="8.4" height="8.4" fill="#fff" stroke="#231f1e" stroke-width="0.8"/>
<path d="M925.4,962.5h-4.2v1.4h2.4v3h-2.4v1.4h4.2z" fill="#d2d2d2" stroke="#231f1e" stroke-width="0.8"/>
<ellipse cx="920.3" cy="965.4" rx="0.8" ry="1.5" fill="#fff" stroke="#231f1e" stroke-width="0.5"/>
<g transform="translate(740.8,1275.8) rotate(-90)">
<path d="M53.2,152.8H138.5M53.2,157.8H138.5M53.2,169.6H138.5M53.2,174.5H138.5" fill="none" stroke="#231f1e" stroke-width="0.8" />
<path d="M53.2,152.8V174.5" fill="none" stroke="#231f1e" stroke-width="0.8" />
<rect x="54.4" y="158.1" width="6.2" height="11.2" fill="#fff" stroke="#231f1e" stroke-width="0.7"/>
<path d="M54.4,158.1L60.6,169.3M60.6,158.1L54.4,169.3" fill="none" stroke="#231f1e" stroke-width="0.5" />
<path d="M62.5,157.8V169.6 M64.5,157.8V169.6" fill="none" stroke="#231f1e" stroke-width="0.7" />
<rect x="26.6" y="143.6" width="16.2" height="15.6" fill="#fff" stroke="#231f1e" stroke-width="0.7"/>
<path d="M26,161.5 H43.4" fill="none" stroke="#231f1e" stroke-width="0.7" />
<path d="M26.2,163 c2,0 2,3 0,3.4 M43.2,163 c-2,0 -2,3 0,3.4" fill="none" stroke="#231f1e" stroke-width="0.8" />
<path d="M11.6,182.6 H23 M46.4,182.6 H58.6" fill="none" stroke="#231f1e" stroke-width="0.7" />
<path d="M3,186 l1.4,2.4 v3 M67,186 l-1.4,2.4 v3" fill="none" stroke="#231f1e" stroke-width="0.7" />
<path d="M24.3,142 V183" fill="none" stroke="#231f1e" stroke-width="2.4" stroke-linecap="square" />
<path d="M45.1,142 V183" fill="none" stroke="#231f1e" stroke-width="2.4" stroke-linecap="square" />
<path d="M3.5,184.2 H66.5" fill="none" stroke="#231f1e" stroke-width="2.6" stroke-linecap="square" />
<path d="M1.6,178.5 V256.6 A33.5,38.5 0 0 0 68.6,256.6 V178.5" fill="none" stroke="#231f1e" stroke-width="2.4" stroke-linecap="square" />
<path d="M2.8,197.9 H67.39999999999999" fill="none" stroke="#231f1e" stroke-width="1.8" stroke-linecap="square" />
<path d="M24.3,142 V183" fill="none" stroke="#d2d2d2" stroke-width="0.9" />
<path d="M45.1,142 V183" fill="none" stroke="#d2d2d2" stroke-width="0.9" />
<path d="M3.5,184.2 H66.5" fill="none" stroke="#d2d2d2" stroke-width="1.1" />
<path d="M1.6,178.5 V256.6 A33.5,38.5 0 0 0 68.6,256.6 V178.5" fill="none" stroke="#d2d2d2" stroke-width="0.9" />
<path d="M2.8,197.9 H67.39999999999999" fill="none" stroke="#d2d2d2" stroke-width="0.4" />
<rect x="58.2" y="144.5" width="5.5" height="4.2" fill="#d2d2d2" stroke="#231f1e" stroke-width="0.8"/>
<rect x="59.8" y="145.7" width="2.3" height="3" fill="#fff" stroke="#231f1e" stroke-width="0.6"/>
<rect x="56.4" y="148.7" width="9.1" height="4.6" fill="#fff" stroke="#231f1e" stroke-width="0.8"/>
<ellipse cx="60.95" cy="151" rx="1.6" ry="0.8" fill="#fff" stroke="#231f1e" stroke-width="0.6"/>
<rect x="60.4" y="179.3" width="5" height="4.2" fill="#d2d2d2" stroke="#231f1e" stroke-width="0.8"/>
<rect x="62" y="179.3" width="1.8" height="3" fill="#fff" stroke="#231f1e" stroke-width="0.6"/>
<rect x="58.6" y="174.8" width="8.6" height="4.5" fill="#fff" stroke="#231f1e" stroke-width="0.8"/>
<ellipse cx="62.9" cy="177.05" rx="1.6" ry="0.8" fill="#fff" stroke="#231f1e" stroke-width="0.6"/>
</g>
<path d="M883.7,1267.2 h3.4 c1.6,0 1.6,1.2 1.6,2.6 v4.6 h-5" fill="none" stroke="#231f1e" stroke-width="0.9" />
<path d="M828.5,1271.8 l1,-1.8 l1,1.8 M876.5,1270 l1.4,1.6" fill="none" stroke="#231f1e" stroke-width="0.7" />
<path d="M812,1208.4 H882.2 V1273.6 H812 Z" fill="none" stroke="#231f1e" stroke-width="3" stroke-linecap="square" />
<path d="M812,1239.5 H838.4 M834.9,1239.5 V1231.5 H846.9 V1239.5 M843.4,1239.5 H865.3 M861.8,1239.5 V1231.5 H873.8 V1239.5 M870.3,1239.5 H882.2" fill="none" stroke="#231f1e" stroke-width="3" stroke-linecap="square" />
<path d="M812,1208.4 H882.2 V1273.6 H812 Z" fill="none" stroke="#d2d2d2" stroke-width="1.5" />
<path d="M812,1239.5 H838.4 M834.9,1239.5 V1231.5 H846.9 V1239.5 M843.4,1239.5 H865.3 M861.8,1239.5 V1231.5 H873.8 V1239.5 M870.3,1239.5 H882.2" fill="none" stroke="#d2d2d2" stroke-width="1.5" />
<path d="M919.6,1254 V1270.5" fill="none" stroke="#231f1e" stroke-width="1.8" stroke-linecap="square" />
<path d="M922,1254 V1266" fill="none" stroke="#231f1e" stroke-width="1.4" stroke-linecap="square" />
<path d="M919.6,1254 V1270.5" fill="none" stroke="#d2d2d2" stroke-width="0.4" />
<path d="M922,1254 V1266" fill="none" stroke="#d2d2d2" stroke-width="0.4" />
<path d="M886.2,1122.4H898.5L899.9,1126.3L904.5,1118.4L905.1,1122.4H916.9" fill="none" stroke="#231f1e" stroke-width="0.8" />
<path d="M886.7,1137.3H899.9L900.7,1132.9L905.4,1141.1L905.6,1137.3H917.7" fill="none" stroke="#231f1e" stroke-width="0.8" />
<g transform="translate(741,1205.8)">
<path d="M-72,152.8H14.6M-72,157.8H14.6M-72,169.6H14.6M-72,174.5H14.6" fill="none" stroke="#231f1e" stroke-width="0.8" />
<path d="M14.6,152.8V174.5" fill="none" stroke="#231f1e" stroke-width="0.8" />
<rect x="7.3" y="158.1" width="7.1" height="11.2" fill="#fff" stroke="#231f1e" stroke-width="0.7"/>
<path d="M7.3,158.1L14.4,169.3M14.4,158.1L7.3,169.3" fill="none" stroke="#231f1e" stroke-width="0.5" />
<path d="M1.3,157.8V169.6H6" fill="none" stroke="#231f1e" stroke-width="1" />
<rect x="7" y="21.2" width="55.2" height="114" fill="none" stroke="#231f1e" stroke-width="4.2"/>
<rect x="7" y="21.2" width="55.2" height="114" fill="none" stroke="#d2d2d2" stroke-width="2.9"/>
<rect x="7" y="21.2" width="55.2" height="114" fill="none" stroke="#555" stroke-width="0.5"/>
<path d="M3,25.8L4.6,27L3,28.2M67,25.8L65.2,27L67,28.2" fill="none" stroke="#231f1e" stroke-width="0.6" />
<path d="M3,69.3L4.6,70.5L3,71.7M67,69.3L65.2,70.5L67,71.7" fill="none" stroke="#231f1e" stroke-width="0.6" />
<path d="M3,112.8L4.6,114L3,115.2M67,112.8L65.2,114L67,115.2" fill="none" stroke="#231f1e" stroke-width="0.6" />
<path d="M19.0,137.5L20.5,139.4L22.0,137.5" fill="none" stroke="#231f1e" stroke-width="0.6" />
<path d="M46.0,137.5L47.5,139.4L49.0,137.5" fill="none" stroke="#231f1e" stroke-width="0.6" />
<path d="M1.8,140.7 V2.6 H67.8 V140.7" fill="none" stroke="#231f1e" stroke-width="3" stroke-linecap="square" />
<path d="M1.8,140.7 H67.8" fill="none" stroke="#231f1e" stroke-width="2.6" stroke-linecap="square" />
<path d="M20,4 V19" fill="none" stroke="#231f1e" stroke-width="2.8" stroke-linecap="square" />
<path d="M48.9,4 V19" fill="none" stroke="#231f1e" stroke-width="2.8" stroke-linecap="square" />
<path d="M61,143 v3 M68.4,142.5 v4" fill="none" stroke="#231f1e" stroke-width="1.6" stroke-linecap="square" />
<path d="M1.8,140.7 V2.6 H67.8 V140.7" fill="none" stroke="#d2d2d2" stroke-width="1.5" />
<path d="M1.8,140.7 H67.8" fill="none" stroke="#d2d2d2" stroke-width="1.1" />
<path d="M20,4 V19" fill="none" stroke="#d2d2d2" stroke-width="1.3" />
<path d="M48.9,4 V19" fill="none" stroke="#d2d2d2" stroke-width="1.3" />
<path d="M61,143 v3 M68.4,142.5 v4" fill="none" stroke="#d2d2d2" stroke-width="0.4" />
<rect x="26.6" y="143.6" width="16.2" height="15.6" fill="#fff" stroke="#231f1e" stroke-width="0.7"/>
<path d="M26,161.5 H43.4" fill="none" stroke="#231f1e" stroke-width="0.7" />
<path d="M26.2,163 c2,0 2,3 0,3.4 M43.2,163 c-2,0 -2,3 0,3.4" fill="none" stroke="#231f1e" stroke-width="0.8" />
<path d="M11.6,182.6 H23 M46.4,182.6 H58.6" fill="none" stroke="#231f1e" stroke-width="0.7" />
<path d="M3,186 l1.4,2.4 v3 M67,186 l-1.4,2.4 v3" fill="none" stroke="#231f1e" stroke-width="0.7" />
<path d="M24.3,142 V183" fill="none" stroke="#231f1e" stroke-width="2.4" stroke-linecap="square" />
<path d="M45.1,142 V183" fill="none" stroke="#231f1e" stroke-width="2.4" stroke-linecap="square" />
<path d="M3.5,184.2 H66.5" fill="none" stroke="#231f1e" stroke-width="2.6" stroke-linecap="square" />
<path d="M1.6,178.5 V256.6 A33.5,38.5 0 0 0 68.6,256.6 V178.5" fill="none" stroke="#231f1e" stroke-width="2.4" stroke-linecap="square" />
<path d="M2.8,197.9 H67.39999999999999" fill="none" stroke="#231f1e" stroke-width="1.8" stroke-linecap="square" />
<path d="M24.3,142 V183" fill="none" stroke="#d2d2d2" stroke-width="0.9" />
<path d="M45.1,142 V183" fill="none" stroke="#d2d2d2" stroke-width="0.9" />
<path d="M3.5,184.2 H66.5" fill="none" stroke="#d2d2d2" stroke-width="1.1" />
<path d="M1.6,178.5 V256.6 A33.5,38.5 0 0 0 68.6,256.6 V178.5" fill="none" stroke="#d2d2d2" stroke-width="0.9" />
<path d="M2.8,197.9 H67.39999999999999" fill="none" stroke="#d2d2d2" stroke-width="0.4" />
<rect x="2.2" y="143.7" width="5.9" height="4.2" fill="#d2d2d2" stroke="#231f1e" stroke-width="0.8"/>
<rect x="3.8" y="144.9" width="2.7" height="3" fill="#fff" stroke="#231f1e" stroke-width="0.6"/>
<rect x="0.4" y="147.9" width="9.5" height="4.6" fill="#fff" stroke="#231f1e" stroke-width="0.8"/>
<ellipse cx="5.15" cy="150.2" rx="1.6" ry="0.8" fill="#fff" stroke="#231f1e" stroke-width="0.6"/>
<rect x="4.8" y="179.3" width="5" height="4.2" fill="#d2d2d2" stroke="#231f1e" stroke-width="0.8"/>
<rect x="6.4" y="179.3" width="1.8" height="3" fill="#fff" stroke="#231f1e" stroke-width="0.6"/>
<rect x="3" y="174.8" width="8.6" height="4.5" fill="#fff" stroke="#231f1e" stroke-width="0.8"/>
<ellipse cx="7.3" cy="177.05" rx="1.6" ry="0.8" fill="#fff" stroke="#231f1e" stroke-width="0.6"/>
</g>
<path d="M669,1351.7V1381.8" fill="none" stroke="#231f1e" stroke-width="0.8" />
<rect x="787.6" y="1382.4" width="12" height="5.8" fill="#fff" stroke="#231f1e" stroke-width="0.8"/>
<path d="M787.6,1384.2H799.6" fill="none" stroke="#231f1e" stroke-width="0.6" />
<rect x="799.2" y="1384.6" width="8.4" height="3.8" fill="#fff" stroke="#231f1e" stroke-width="0.8"/>
<ellipse cx="803.4" cy="1386.5" rx="1.6" ry="0.8" fill="#fff" stroke="#231f1e" stroke-width="0.6"/>
<path d="M811.9,1382.3 A100.5,100.5 0 0 0 918.8,1277.5" fill="none" stroke="#231f1e" stroke-width="2"/>
<path d="M811.9,1382.3 A100.5,100.5 0 0 0 918.8,1277.5" fill="none" stroke="#fff" stroke-width="0.7"/>
<path d="M807,1380.6 H812.5 V1383" fill="none" stroke="#231f1e" stroke-width="0.9" />
<path d="M915.5,1271.5 V1277 H919" fill="none" stroke="#231f1e" stroke-width="0.9" />
<circle cx="807" cy="1380.6" r="3.6" fill="#d2d2d2" stroke="#231f1e" stroke-width="0.9"/>
<circle cx="807" cy="1380.6" r="1.7" fill="#fff" stroke="#231f1e" stroke-width="0.8"/>
<circle cx="915.5" cy="1271.8" r="3.6" fill="#d2d2d2" stroke="#231f1e" stroke-width="0.9"/>
<circle cx="915.5" cy="1271.8" r="1.7" fill="#fff" stroke="#231f1e" stroke-width="0.8"/>
<text x="797.2" y="939.9" font-size="14.25" text-anchor="start" fill="#231815" stroke="#231815" stroke-width="0.3" >YJ300–01</text>
<path d="M796.4,945.3H862.4M796.4,945.3V960.6" fill="none" stroke="#231f1e" stroke-width="0.8" />
<text x="958.3" y="939.9" font-size="14.25" text-anchor="start" fill="#231815" stroke="#231815" stroke-width="0.3" >YJ300–31</text>
<path d="M957,945.6H1022.7M957,945.6V960.8" fill="none" stroke="#231f1e" stroke-width="0.8" />
<text x="942.3" y="998" font-size="14.25" text-anchor="start" fill="#231815" stroke="#231815" stroke-width="0.3" >YJ300–26</text>
<path d="M926.3,1002.4H1008" fill="none" stroke="#231f1e" stroke-width="0.8" />
<text x="788.8" y="1185.4" font-size="14.25" text-anchor="start" fill="#231815" stroke="#231815" stroke-width="0.3" >YJ300–11</text>
<path d="M787.8,1190.7H855.2M855.2,1190.7V1206.6" fill="none" stroke="#231f1e" stroke-width="0.8" />
<text x="960.1" y="1185.4" font-size="14.25" text-anchor="start" fill="#231815" stroke="#231815" stroke-width="0.3" >YJ300–31</text>
<path d="M959.5,1190.7H1025.2M959.5,1190.7V1206.6" fill="none" stroke="#231f1e" stroke-width="0.8" />
<text x="942.9" y="1247.7" font-size="14.25" text-anchor="start" fill="#231815" stroke="#231815" stroke-width="0.3" >YJ300–26</text>
<path d="M926.6,1251.8H1008" fill="none" stroke="#231f1e" stroke-width="0.8" />
<text x="670.4" y="1283.1" font-size="14.25" text-anchor="start" fill="#231815" stroke="#231815" stroke-width="0.3" >YJ300–02</text>
<path d="M669.4,1287.8H741" fill="none" stroke="#231f1e" stroke-width="0.8" />
<text x="834.7" y="1299.5" font-size="14.25" text-anchor="start" fill="#231815" stroke="#231815" stroke-width="0.3" >YJ300–48</text>
<path d="M833.3,1304.2H897.5M833.3,1304.2L830.6,1274" fill="none" stroke="#231f1e" stroke-width="0.8" />
<text x="791.1" y="1367.5" font-size="13.2" text-anchor="start" fill="#231815" stroke="#231815" stroke-width="0.3" >YJ300–42</text>
<path d="M790.9,1372.4H850.9M790.9,1372.4V1382.3" fill="none" stroke="#231f1e" stroke-width="0.8" />
<text x="904.3" y="1371.8" font-size="14.25" text-anchor="start" fill="#231815" stroke="#231815" stroke-width="0.3" >YJ300–45</text>
<path d="M903.5,1376.6H969.5M903.5,1376.6L889.2,1353.2" fill="none" stroke="#231f1e" stroke-width="0.8" />
<text x="816.6" y="1415.6" font-size="14.25" text-anchor="start" fill="#231815" stroke="#231815" stroke-width="0.3" >YJ300–26</text>
<path d="M814.4,1420H882.4M814.4,1420L768.4,1390.6" fill="none" stroke="#231f1e" stroke-width="0.8" />
<text x="669.4" y="1448.5" font-size="14.25" text-anchor="start" fill="#231815" stroke="#231815" stroke-width="0.3" >YJ300–31</text>
<path d="M668.8,1453.2H741" fill="none" stroke="#231f1e" stroke-width="0.8" />
<circle cx="772.2" cy="1525.9" r="10.4" fill="#fff" stroke="#231f1e" stroke-width="0.8"/>
<text x="772.2" y="1531.66" font-size="16" text-anchor="middle" fill="#231815" stroke="#231815" stroke-width="0.3" >1</text>
<g transform="translate(0,0)">
<path d="M807.5,358.2 l1.4,-1.6 l1.4,1.6 M830.6,358.6 M864.8,358.2 l1.2,-1.6 l1.2,1.6" fill="none" stroke="#231f1e" stroke-width="0.7" />
<path d="M892.6,320.4 h1.8 v1.5 h2.4 v-1.5 h1.8 M892.6,335.2 h1.8 v-1.5 h2.4 v1.5 h1.8" fill="none" stroke="#231f1e" stroke-width="0.8" />
<path d="M876,294.9 H813.2 V296.3 C806.5,296.8 801.2,302 800.7,308.6 H799.6 V347.4 H800.7 C801.2,354 806.5,359.3 813.2,359.8 V361.2 H868" fill="none" stroke="#231f1e" stroke-width="3" stroke-linecap="square" />
<path d="M869.9,294.9 V361.2" fill="none" stroke="#231f1e" stroke-width="3" stroke-linecap="square" />
<path d="M801,326.7 H826.4 M822.9,326.7 V318.6 H834.6 V326.7 M831,326.7 H853.4 M849.8,326.7 V318.6 H861.6 V326.7 M858,326.7 H868.6" fill="none" stroke="#231f1e" stroke-width="3" stroke-linecap="square" />
<path d="M913,294.6 V360.8" fill="none" stroke="#231f1e" stroke-width="3" stroke-linecap="square" />
<path d="M871.6,317.3 H911.6" fill="none" stroke="#231f1e" stroke-width="2.6" stroke-linecap="square" />
<path d="M871.6,338.3 H911.6" fill="none" stroke="#231f1e" stroke-width="2.6" stroke-linecap="square" />
<path d="M889.2,318.5 V337.2" fill="none" stroke="#231f1e" stroke-width="2.8" stroke-linecap="square" />
<path d="M895.6,318.6 v2.4 M895.6,337 v-2.4" fill="none" stroke="#231f1e" stroke-width="1.8" stroke-linecap="square" />
<path d="M907.4,294.5 H933.0 A32.5,32.5 0 0 1 933.0,359.5 H907.4" fill="none" stroke="#231f1e" stroke-width="2" stroke-linecap="square" />
<path d="M908.5,297.2 H916.8" fill="none" stroke="#231f1e" stroke-width="1.6" stroke-linecap="square" />
<path d="M908.5,357 H916.8" fill="none" stroke="#231f1e" stroke-width="1.6" stroke-linecap="square" />
<path d="M876,294.9 H813.2 V296.3 C806.5,296.8 801.2,302 800.7,308.6 H799.6 V347.4 H800.7 C801.2,354 806.5,359.3 813.2,359.8 V361.2 H868" fill="none" stroke="#d2d2d2" stroke-width="1.5" />
<path d="M869.9,294.9 V361.2" fill="none" stroke="#d2d2d2" stroke-width="1.5" />
<path d="M801,326.7 H826.4 M822.9,326.7 V318.6 H834.6 V326.7 M831,326.7 H853.4 M849.8,326.7 V318.6 H861.6 V326.7 M858,326.7 H868.6" fill="none" stroke="#d2d2d2" stroke-width="1.5" />
<path d="M913,294.6 V360.8" fill="none" stroke="#d2d2d2" stroke-width="1.5" />
<path d="M871.6,317.3 H911.6" fill="none" stroke="#d2d2d2" stroke-width="1.1" />
<path d="M871.6,338.3 H911.6" fill="none" stroke="#d2d2d2" stroke-width="1.1" />
<path d="M889.2,318.5 V337.2" fill="none" stroke="#d2d2d2" stroke-width="1.3" />
<path d="M895.6,318.6 v2.4 M895.6,337 v-2.4" fill="none" stroke="#d2d2d2" stroke-width="0.4" />
<path d="M907.4,294.5 H933.0 A32.5,32.5 0 0 1 933.0,359.5 H907.4" fill="none" stroke="#d2d2d2" stroke-width="0.5" />
<path d="M908.5,297.2 H916.8" fill="none" stroke="#d2d2d2" stroke-width="0.4" />
<path d="M908.5,357 H916.8" fill="none" stroke="#d2d2d2" stroke-width="0.4" />
<rect x="881.5" y="346.1" width="22.1" height="84" fill="#fff"/>
<path d="M881.5,346.1V430.1M886.3,346.1V430.1M898.1,346.1V430.1M903.6,346.1V430.1" fill="none" stroke="#231f1e" stroke-width="0.8" />
<path d="M881.5,346.1H903.6" fill="none" stroke="#231f1e" stroke-width="0.8" />
<rect x="886.5" y="346.6" width="11.4" height="6" fill="#fff" stroke="#231f1e" stroke-width="0.7"/>
<path d="M886.5,346.6L897.9,352.6M897.9,346.6L886.5,352.6" fill="none" stroke="#231f1e" stroke-width="0.5" />
<path d="M886.3,354.4H898.1M886.3,357.8H898.1" fill="none" stroke="#231f1e" stroke-width="0.7" />
<path d="M871.3,293.4 h5.2 v3 h-2 v-0.9 h-1.4 v3.4 h1.4 v-0.9 h2 v3 h-5.2 z" fill="#d2d2d2" stroke="#231f1e" stroke-width="0.8"/>
<path d="M911.8,293.4 h-4.6 v3 h2 v-0.9 h1.2 v3.4 h-1.2 v-0.9 h-2 v3 h4.6 z" fill="#d2d2d2" stroke="#231f1e" stroke-width="0.8"/>
<rect x="871.8" y="353.6" width="9.5" height="7.4" fill="#fff" stroke="#231f1e" stroke-width="0.8"/>
<path d="M872.4,354.9h4.2v1.4h-2.4v2h2.4v1.4h-4.2z" fill="#d2d2d2" stroke="#231f1e" stroke-width="0.8"/>
<ellipse cx="878.6" cy="357.3" rx="0.8" ry="1.5" fill="#fff" stroke="#231f1e" stroke-width="0.5"/>
<rect x="903.8" y="353.6" width="8.2" height="7.4" fill="#fff" stroke="#231f1e" stroke-width="0.8"/>
<path d="M911.4,354.9h-4.2v1.4h2.4v2h-2.4v1.4h4.2z" fill="#d2d2d2" stroke="#231f1e" stroke-width="0.8"/>
<ellipse cx="906.5" cy="357.3" rx="0.8" ry="1.5" fill="#fff" stroke="#231f1e" stroke-width="0.5"/>
</g>
<g transform="translate(0,209)">
<path d="M807.5,358.2 l1.4,-1.6 l1.4,1.6 M830.6,358.6 M864.8,358.2 l1.2,-1.6 l1.2,1.6" fill="none" stroke="#231f1e" stroke-width="0.7" />
<path d="M892.6,320.4 h1.8 v1.5 h2.4 v-1.5 h1.8 M892.6,335.2 h1.8 v-1.5 h2.4 v1.5 h1.8" fill="none" stroke="#231f1e" stroke-width="0.8" />
<path d="M876,294.9 H813.2 V296.3 C806.5,296.8 801.2,302 800.7,308.6 H799.6 V347.4 H800.7 C801.2,354 806.5,359.3 813.2,359.8 V361.2 H868" fill="none" stroke="#231f1e" stroke-width="3" stroke-linecap="square" />
<path d="M869.9,294.9 V361.2" fill="none" stroke="#231f1e" stroke-width="3" stroke-linecap="square" />
<path d="M801,326.7 H826.4 M822.9,326.7 V318.6 H834.6 V326.7 M831,326.7 H853.4 M849.8,326.7 V318.6 H861.6 V326.7 M858,326.7 H868.6" fill="none" stroke="#231f1e" stroke-width="3" stroke-linecap="square" />
<path d="M913,294.6 V360.8" fill="none" stroke="#231f1e" stroke-width="3" stroke-linecap="square" />
<path d="M871.6,317.3 H911.6" fill="none" stroke="#231f1e" stroke-width="2.6" stroke-linecap="square" />
<path d="M871.6,338.3 H911.6" fill="none" stroke="#231f1e" stroke-width="2.6" stroke-linecap="square" />
<path d="M889.2,318.5 V337.2" fill="none" stroke="#231f1e" stroke-width="2.8" stroke-linecap="square" />
<path d="M895.6,318.6 v2.4 M895.6,337 v-2.4" fill="none" stroke="#231f1e" stroke-width="1.8" stroke-linecap="square" />
<path d="M907.4,294.5 H933.0 A32.5,32.5 0 0 1 933.0,359.5 H907.4" fill="none" stroke="#231f1e" stroke-width="2" stroke-linecap="square" />
<path d="M908.5,297.2 H916.8" fill="none" stroke="#231f1e" stroke-width="1.6" stroke-linecap="square" />
<path d="M908.5,357 H916.8" fill="none" stroke="#231f1e" stroke-width="1.6" stroke-linecap="square" />
<path d="M876,294.9 H813.2 V296.3 C806.5,296.8 801.2,302 800.7,308.6 H799.6 V347.4 H800.7 C801.2,354 806.5,359.3 813.2,359.8 V361.2 H868" fill="none" stroke="#d2d2d2" stroke-width="1.5" />
<path d="M869.9,294.9 V361.2" fill="none" stroke="#d2d2d2" stroke-width="1.5" />
<path d="M801,326.7 H826.4 M822.9,326.7 V318.6 H834.6 V326.7 M831,326.7 H853.4 M849.8,326.7 V318.6 H861.6 V326.7 M858,326.7 H868.6" fill="none" stroke="#d2d2d2" stroke-width="1.5" />
<path d="M913,294.6 V360.8" fill="none" stroke="#d2d2d2" stroke-width="1.5" />
<path d="M871.6,317.3 H911.6" fill="none" stroke="#d2d2d2" stroke-width="1.1" />
<path d="M871.6,338.3 H911.6" fill="none" stroke="#d2d2d2" stroke-width="1.1" />
<path d="M889.2,318.5 V337.2" fill="none" stroke="#d2d2d2" stroke-width="1.3" />
<path d="M895.6,318.6 v2.4 M895.6,337 v-2.4" fill="none" stroke="#d2d2d2" stroke-width="0.4" />
<path d="M907.4,294.5 H933.0 A32.5,32.5 0 0 1 933.0,359.5 H907.4" fill="none" stroke="#d2d2d2" stroke-width="0.5" />
<path d="M908.5,297.2 H916.8" fill="none" stroke="#d2d2d2" stroke-width="0.4" />
<path d="M908.5,357 H916.8" fill="none" stroke="#d2d2d2" stroke-width="0.4" />
<rect x="881.5" y="346.1" width="22.1" height="82.1" fill="#fff"/>
<path d="M881.5,346.1V428.2M886.3,346.1V428.2M898.1,346.1V428.2M903.6,346.1V428.2" fill="none" stroke="#231f1e" stroke-width="0.8" />
<path d="M881.5,346.1H903.6" fill="none" stroke="#231f1e" stroke-width="0.8" />
<rect x="886.5" y="346.6" width="11.4" height="6" fill="#fff" stroke="#231f1e" stroke-width="0.7"/>
<path d="M886.5,346.6L897.9,352.6M897.9,346.6L886.5,352.6" fill="none" stroke="#231f1e" stroke-width="0.5" />
<path d="M886.3,354.4H898.1M886.3,357.8H898.1" fill="none" stroke="#231f1e" stroke-width="0.7" />
<rect x="881.5" y="234.3" width="22.1" height="75.1" fill="#fff"/>
<path d="M881.5,234.3V309.4M886.3,234.3V309.4M898.1,234.3V309.4M903.6,234.3V309.4" fill="none" stroke="#231f1e" stroke-width="0.8" />
<path d="M881.5,309.4H903.6" fill="none" stroke="#231f1e" stroke-width="0.8" />
<rect x="886.5" y="302.9" width="11.4" height="6" fill="#fff" stroke="#231f1e" stroke-width="0.7"/>
<path d="M886.5,302.9L897.9,308.9M897.9,302.9L886.5,308.9" fill="none" stroke="#231f1e" stroke-width="0.5" />
<path d="M886.3,301.1H898.1M886.3,297.7H898.1" fill="none" stroke="#231f1e" stroke-width="0.7" />
<rect x="871.8" y="294.2" width="9.5" height="7.4" fill="#fff" stroke="#231f1e" stroke-width="0.8"/>
<path d="M872.4,295.5h4.2v1.4h-2.4v2h2.4v1.4h-4.2z" fill="#d2d2d2" stroke="#231f1e" stroke-width="0.8"/>
<ellipse cx="878.6" cy="297.9" rx="0.8" ry="1.5" fill="#fff" stroke="#231f1e" stroke-width="0.5"/>
<rect x="903.8" y="294.2" width="8.2" height="7.4" fill="#fff" stroke="#231f1e" stroke-width="0.8"/>
<path d="M911.4,295.5h-4.2v1.4h2.4v2h-2.4v1.4h4.2z" fill="#d2d2d2" stroke="#231f1e" stroke-width="0.8"/>
<ellipse cx="906.5" cy="297.9" rx="0.8" ry="1.5" fill="#fff" stroke="#231f1e" stroke-width="0.5"/>
<rect x="871.8" y="353.6" width="9.5" height="7.4" fill="#fff" stroke="#231f1e" stroke-width="0.8"/>
<path d="M872.4,354.9h4.2v1.4h-2.4v2h2.4v1.4h-4.2z" fill="#d2d2d2" stroke="#231f1e" stroke-width="0.8"/>
<ellipse cx="878.6" cy="357.3" rx="0.8" ry="1.5" fill="#fff" stroke="#231f1e" stroke-width="0.5"/>
<rect x="903.8" y="353.6" width="8.2" height="7.4" fill="#fff" stroke="#231f1e" stroke-width="0.8"/>
<path d="M911.4,354.9h-4.2v1.4h2.4v2h-2.4v1.4h4.2z" fill="#d2d2d2" stroke="#231f1e" stroke-width="0.8"/>
<ellipse cx="906.5" cy="357.3" rx="0.8" ry="1.5" fill="#fff" stroke="#231f1e" stroke-width="0.5"/>
</g>
<g transform="translate(0,417.6)">
<path d="M807.5,358.2 l1.4,-1.6 l1.4,1.6 M830.6,358.6 M864.8,358.2 l1.2,-1.6 l1.2,1.6" fill="none" stroke="#231f1e" stroke-width="0.7" />
<path d="M892.6,320.4 h1.8 v1.5 h2.4 v-1.5 h1.8 M892.6,335.2 h1.8 v-1.5 h2.4 v1.5 h1.8" fill="none" stroke="#231f1e" stroke-width="0.8" />
<path d="M876,294.9 H813.2 V296.3 C806.5,296.8 801.2,302 800.7,308.6 H799.6 V347.4 H800.7 C801.2,354 806.5,359.3 813.2,359.8 V361.2 H868" fill="none" stroke="#231f1e" stroke-width="3" stroke-linecap="square" />
<path d="M869.9,294.9 V361.2" fill="none" stroke="#231f1e" stroke-width="3" stroke-linecap="square" />
<path d="M801,326.7 H826.4 M822.9,326.7 V318.6 H834.6 V326.7 M831,326.7 H853.4 M849.8,326.7 V318.6 H861.6 V326.7 M858,326.7 H868.6" fill="none" stroke="#231f1e" stroke-width="3" stroke-linecap="square" />
<path d="M913,294.6 V360.8" fill="none" stroke="#231f1e" stroke-width="3" stroke-linecap="square" />
<path d="M871.6,317.3 H911.6" fill="none" stroke="#231f1e" stroke-width="2.6" stroke-linecap="square" />
<path d="M871.6,338.3 H911.6" fill="none" stroke="#231f1e" stroke-width="2.6" stroke-linecap="square" />
<path d="M889.2,318.5 V337.2" fill="none" stroke="#231f1e" stroke-width="2.8" stroke-linecap="square" />
<path d="M895.6,318.6 v2.4 M895.6,337 v-2.4" fill="none" stroke="#231f1e" stroke-width="1.8" stroke-linecap="square" />
<path d="M907.4,294.5 H933.0 A32.5,32.5 0 0 1 933.0,359.5 H907.4" fill="none" stroke="#231f1e" stroke-width="2" stroke-linecap="square" />
<path d="M908.5,297.2 H916.8" fill="none" stroke="#231f1e" stroke-width="1.6" stroke-linecap="square" />
<path d="M908.5,357 H916.8" fill="none" stroke="#231f1e" stroke-width="1.6" stroke-linecap="square" />
<path d="M876,294.9 H813.2 V296.3 C806.5,296.8 801.2,302 800.7,308.6 H799.6 V347.4 H800.7 C801.2,354 806.5,359.3 813.2,359.8 V361.2 H868" fill="none" stroke="#d2d2d2" stroke-width="1.5" />
<path d="M869.9,294.9 V361.2" fill="none" stroke="#d2d2d2" stroke-width="1.5" />
<path d="M801,326.7 H826.4 M822.9,326.7 V318.6 H834.6 V326.7 M831,326.7 H853.4 M849.8,326.7 V318.6 H861.6 V326.7 M858,326.7 H868.6" fill="none" stroke="#d2d2d2" stroke-width="1.5" />
<path d="M913,294.6 V360.8" fill="none" stroke="#d2d2d2" stroke-width="1.5" />
<path d="M871.6,317.3 H911.6" fill="none" stroke="#d2d2d2" stroke-width="1.1" />
<path d="M871.6,338.3 H911.6" fill="none" stroke="#d2d2d2" stroke-width="1.1" />
<path d="M889.2,318.5 V337.2" fill="none" stroke="#d2d2d2" stroke-width="1.3" />
<path d="M895.6,318.6 v2.4 M895.6,337 v-2.4" fill="none" stroke="#d2d2d2" stroke-width="0.4" />
<path d="M907.4,294.5 H933.0 A32.5,32.5 0 0 1 933.0,359.5 H907.4" fill="none" stroke="#d2d2d2" stroke-width="0.5" />
<path d="M908.5,297.2 H916.8" fill="none" stroke="#d2d2d2" stroke-width="0.4" />
<path d="M908.5,357 H916.8" fill="none" stroke="#d2d2d2" stroke-width="0.4" />
<rect x="881.5" y="229.9" width="22.1" height="79.5" fill="#fff"/>
<path d="M881.5,229.9V309.4M886.3,229.9V309.4M898.1,229.9V309.4M903.6,229.9V309.4" fill="none" stroke="#231f1e" stroke-width="0.8" />
<path d="M881.5,309.4H903.6" fill="none" stroke="#231f1e" stroke-width="0.8" />
<rect x="886.5" y="302.9" width="11.4" height="6" fill="#fff" stroke="#231f1e" stroke-width="0.7"/>
<path d="M886.5,302.9L897.9,308.9M897.9,302.9L886.5,308.9" fill="none" stroke="#231f1e" stroke-width="0.5" />
<path d="M886.3,301.1H898.1M886.3,297.7H898.1" fill="none" stroke="#231f1e" stroke-width="0.7" />
<rect x="871.8" y="294.2" width="9.5" height="7.4" fill="#fff" stroke="#231f1e" stroke-width="0.8"/>
<path d="M872.4,295.5h4.2v1.4h-2.4v2h2.4v1.4h-4.2z" fill="#d2d2d2" stroke="#231f1e" stroke-width="0.8"/>
<ellipse cx="878.6" cy="297.9" rx="0.8" ry="1.5" fill="#fff" stroke="#231f1e" stroke-width="0.5"/>
<rect x="903.8" y="294.2" width="8.2" height="7.4" fill="#fff" stroke="#231f1e" stroke-width="0.8"/>
<path d="M911.4,295.5h-4.2v1.4h2.4v2h-2.4v1.4h4.2z" fill="#d2d2d2" stroke="#231f1e" stroke-width="0.8"/>
<ellipse cx="906.5" cy="297.9" rx="0.8" ry="1.5" fill="#fff" stroke="#231f1e" stroke-width="0.5"/>
<rect x="871.8" y="353.6" width="9.5" height="7.4" fill="#fff" stroke="#231f1e" stroke-width="0.8"/>
<path d="M872.4,354.9h4.2v1.4h-2.4v2h2.4v1.4h-4.2z" fill="#d2d2d2" stroke="#231f1e" stroke-width="0.8"/>
<ellipse cx="878.6" cy="357.3" rx="0.8" ry="1.5" fill="#fff" stroke="#231f1e" stroke-width="0.5"/>
<rect x="903.8" y="353.6" width="8.2" height="7.4" fill="#fff" stroke="#231f1e" stroke-width="0.8"/>
<path d="M911.4,354.9h-4.2v1.4h2.4v2h-2.4v1.4h4.2z" fill="#d2d2d2" stroke="#231f1e" stroke-width="0.8"/>
<ellipse cx="906.5" cy="357.3" rx="0.8" ry="1.5" fill="#fff" stroke="#231f1e" stroke-width="0.5"/>
</g>
<path d="M874.8,430.1H886.9L888.2,434.1L893.2,426.20000000000005L893.4,430.1H905.8" fill="none" stroke="#231f1e" stroke-width="0.8" />
<path d="M874.8,443.3H887.4L888.2,439.1L893.4,447.6L893.7,443.3H905.8" fill="none" stroke="#231f1e" stroke-width="0.8" />
<path d="M874.8,637.2H886.9L888.2,641.2L893.2,633.3000000000001L893.4,637.2H905.8" fill="none" stroke="#231f1e" stroke-width="0.8" />
<path d="M874.8,647.5H887.4L888.2,643.3L893.4,651.8L893.7,647.5H905.8" fill="none" stroke="#231f1e" stroke-width="0.8" />
<text x="820.6" y="278.7" font-size="14.6" text-anchor="start" fill="#231815" stroke="#231815" stroke-width="0.3" >YJ300–10</text>
<path d="M819.9,283.6H886.1M819.9,283.6V293.4" fill="none" stroke="#231f1e" stroke-width="0.8" />
<text x="921.6" y="334.6" font-size="14.6" text-anchor="start" fill="#231815" stroke="#231815" stroke-width="0.3" >YJ300–26</text>
<path d="M914.5,340H986.7" fill="none" stroke="#231f1e" stroke-width="0.8" />
<text x="784.7" y="381.4" font-size="14.6" text-anchor="start" fill="#231815" stroke="#231815" stroke-width="0.3" >YJ300–48</text>
<path d="M782.3,386.2H850.9M850.9,386.2V362.4" fill="none" stroke="#231f1e" stroke-width="0.8" />
<text x="935.7" y="381.4" font-size="14.6" text-anchor="start" fill="#231815" stroke="#231815" stroke-width="0.3" >YJ300–33</text>
<path d="M932.7,386.2H1000.8M932.7,386.2V362.3" fill="none" stroke="#231f1e" stroke-width="0.8" />
<circle cx="1016" cy="339.7" r="10.6" fill="#fff" stroke="#231f1e" stroke-width="0.8"/>
<text x="1016" y="345.46" font-size="16" text-anchor="middle" fill="#231815" stroke="#231815" stroke-width="0.3" >6</text>
<text x="794.8" y="481.8" font-size="14.6" text-anchor="start" fill="#231815" stroke="#231815" stroke-width="0.3" >YJ300–10</text>
<path d="M794,487.5H860.5M860.5,487.5V502.3" fill="none" stroke="#231f1e" stroke-width="0.8" />
<text x="920.2" y="537" font-size="14.6" text-anchor="start" fill="#231815" stroke="#231815" stroke-width="0.3" >YJ300–26</text>
<path d="M914.5,542.2H985.5" fill="none" stroke="#231f1e" stroke-width="0.8" />
<text x="792.4" y="591" font-size="13.4" text-anchor="start" fill="#231815" stroke="#231815" stroke-width="0.3" >YJ300–48</text>
<path d="M791.7,595.5H853.5M853.5,595.5V571.2" fill="none" stroke="#231f1e" stroke-width="0.8" />
<text x="927.3" y="591" font-size="14.6" text-anchor="start" fill="#231815" stroke="#231815" stroke-width="0.3" >YJ300–33</text>
<path d="M924,595.5H992.6M924,595.5V571.2" fill="none" stroke="#231f1e" stroke-width="0.8" />
<circle cx="1016" cy="536.8" r="10.6" fill="#fff" stroke="#231f1e" stroke-width="0.8"/>
<text x="1016" y="542.56" font-size="16" text-anchor="middle" fill="#231815" stroke="#231815" stroke-width="0.3" >7</text>
<text x="791.7" y="688.7" font-size="14.6" text-anchor="start" fill="#231815" stroke="#231815" stroke-width="0.3" >YJ300–10</text>
<path d="M791,694.1H857M857,694.1V711" fill="none" stroke="#231f1e" stroke-width="0.8" />
<text x="921.6" y="746.3" font-size="14.6" text-anchor="start" fill="#231815" stroke="#231815" stroke-width="0.3" >YJ300–26</text>
<path d="M914.5,751.2H986.7" fill="none" stroke="#231f1e" stroke-width="0.8" />
<text x="824.6" y="799.6" font-size="14.6" text-anchor="start" fill="#231815" stroke="#231815" stroke-width="0.3" >YJ300–48</text>
<path d="M823.9,804.3H889.9M823.9,804.3V779.8" fill="none" stroke="#231f1e" stroke-width="0.8" />
<text x="922.1" y="799.6" font-size="14.6" text-anchor="start" fill="#231815" stroke="#231815" stroke-width="0.3" >YJ300–33</text>
<path d="M921.1,804.3H987.2M921.1,804.3V779.8" fill="none" stroke="#231f1e" stroke-width="0.8" />
<circle cx="1016" cy="745.6" r="10.6" fill="#fff" stroke="#231f1e" stroke-width="0.8"/>
<text x="1016" y="751.36" font-size="16" text-anchor="middle" fill="#231815" stroke="#231815" stroke-width="0.3" >8</text>
</svg></body></html>
